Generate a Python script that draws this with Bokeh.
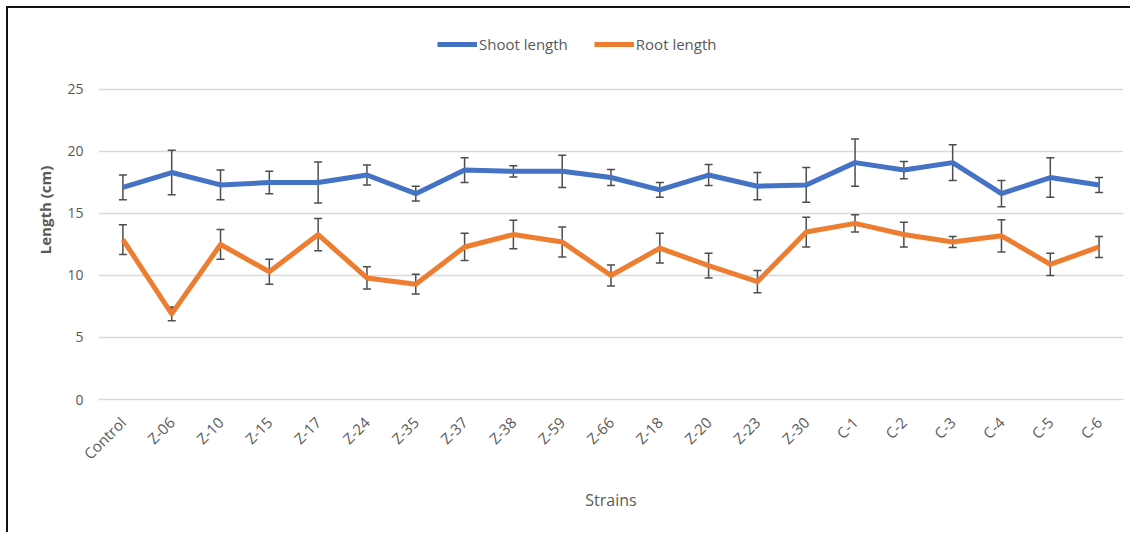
from bokeh.plotting import figure
from bokeh.models import ColumnDataSource, FactorRange, Whisker, TeeHead, Legend, LegendItem, FixedTicker, Range1d
from bokeh.embed import file_html
from bokeh.resources import INLINE

strains = ["Control", "Z-06", "Z-10", "Z-15", "Z-17", "Z-24", "Z-35", "Z-37", "Z-38", "Z-59",
           "Z-66", "Z-18", "Z-20", "Z-23", "Z-30", "C-1", "C-2", "C-3", "C-4", "C-5", "C-6"]
shoot_length = [17.1, 18.3, 17.3, 17.5, 17.5, 18.1, 16.6, 18.5, 18.4, 18.4,
                17.9, 16.9, 18.1, 17.2, 17.3, 19.1, 18.5, 19.1, 16.6, 17.9, 17.3]
shoot_err = [1.0, 1.8, 1.2, 0.9, 1.65, 0.8, 0.6, 1.0, 0.45, 1.3,
             0.65, 0.6, 0.85, 1.1, 1.4, 1.9, 0.7, 1.45, 1.05, 1.6, 0.6]
root_length = [12.9, 6.9, 12.5, 10.3, 13.3, 9.8, 9.3, 12.3, 13.3, 12.7,
               10.0, 12.2, 10.8, 9.5, 13.5, 14.2, 13.3, 12.7, 13.2, 10.9, 12.3]
root_err = [1.2, 0.55, 1.2, 1.0, 1.3, 0.9, 0.8, 1.1, 1.15, 1.2,
            0.85, 1.2, 1.0, 0.9, 1.2, 0.7, 1.0, 0.45, 1.3, 0.9, 0.85]
y_ticks = [0, 5, 10, 15, 20, 25]

FONT = "Open Sans"
GRAY = "#595959"

src = ColumnDataSource(dict(
    x=strains,
    shoot=shoot_length,
    s_lo=[v - e for v, e in zip(shoot_length, shoot_err)],
    s_hi=[v + e for v, e in zip(shoot_length, shoot_err)],
    root=root_length,
    r_lo=[v - e for v, e in zip(root_length, root_err)],
    r_hi=[v + e for v, e in zip(root_length, root_err)],
))

# frame extends above the top gridline so that the legend sits inside it
p = figure(width=1124, height=526, x_range=FactorRange(*strains, range_padding=0),
           y_range=Range1d(0, 30.56), output_backend="svg", toolbar_location=None,
           min_border_left=90, min_border_right=9, min_border_top=12, min_border_bottom=135)
p.styles = {"border-top": "2px solid #111111", "border-left": "2px solid #111111",
            "box-sizing": "border-box", "margin-left": "6px", "margin-top": "6px"}
p.outline_line_color = None
p.background_fill_color = "white"
p.border_fill_color = "white"

r1 = p.line("x", "shoot", source=src, line_color="#4472C4", line_width=5, line_join="round")
r2 = p.line("x", "root", source=src, line_color="#ED7D31", line_width=5, line_join="round")

for lo, hi in (("s_lo", "s_hi"), ("r_lo", "r_hi")):
    w = Whisker(base="x", lower=lo, upper=hi, source=src,
                line_color="#4d4d4d", line_width=1.5,
                upper_head=TeeHead(size=8, line_color="#4d4d4d", line_width=1.5),
                lower_head=TeeHead(size=8, line_color="#4d4d4d", line_width=1.5))
    p.add_layout(w)

# axes
p.yaxis.ticker = FixedTicker(ticks=y_ticks)
p.yaxis.axis_line_color = None
p.yaxis.major_tick_line_color = None
p.yaxis.major_tick_out = 0
p.yaxis.minor_tick_line_color = None
p.yaxis.major_label_standoff = 15
p.yaxis.major_label_text_font = FONT
p.yaxis.major_label_text_font_size = "14px"
p.yaxis.major_label_text_color = GRAY
p.yaxis.axis_label = "Length (cm)"
p.yaxis.axis_label_text_font = FONT
p.yaxis.axis_label_text_font_size = "15px"
p.yaxis.axis_label_text_font_style = "bold"
p.yaxis.axis_label_text_color = GRAY
p.yaxis.axis_label_standoff = 9

p.xaxis.axis_line_color = "#d9d9d9"
p.xaxis.axis_line_width = 1.5
p.xaxis.major_tick_line_color = None
p.xaxis.major_tick_out = 0
p.xaxis.minor_tick_line_color = None
p.xaxis.major_label_orientation = 0.785398
p.xaxis.major_label_standoff = 20
p.xaxis.major_label_text_font = FONT
p.xaxis.major_label_text_font_size = "15px"
p.xaxis.major_label_text_color = GRAY
p.xaxis.axis_label = "Strains"
p.xaxis.axis_label_text_font = FONT
p.xaxis.axis_label_text_font_size = "16px"
p.xaxis.axis_label_text_font_style = "normal"
p.xaxis.axis_label_text_color = GRAY
p.xaxis.axis_label_standoff = 16

p.xgrid.grid_line_color = None
p.ygrid.ticker = FixedTicker(ticks=y_ticks)
p.ygrid.grid_line_color = "#d9d9d9"
p.ygrid.grid_line_width = 1.5

legend = Legend(items=[LegendItem(label="Shoot length", renderers=[r1]),
                       LegendItem(label="Root length", renderers=[r2])],
                orientation="horizontal", location=(339, 345),
                label_text_font=FONT, label_text_font_size="15px", label_text_color=GRAY,
                glyph_width=40, glyph_height=20, label_standoff=2, spacing=26,
                padding=0, margin=0, border_line_color=None, background_fill_alpha=0)
p.add_layout(legend, "center")

open("out.html", "w").write(file_html(p, INLINE))
